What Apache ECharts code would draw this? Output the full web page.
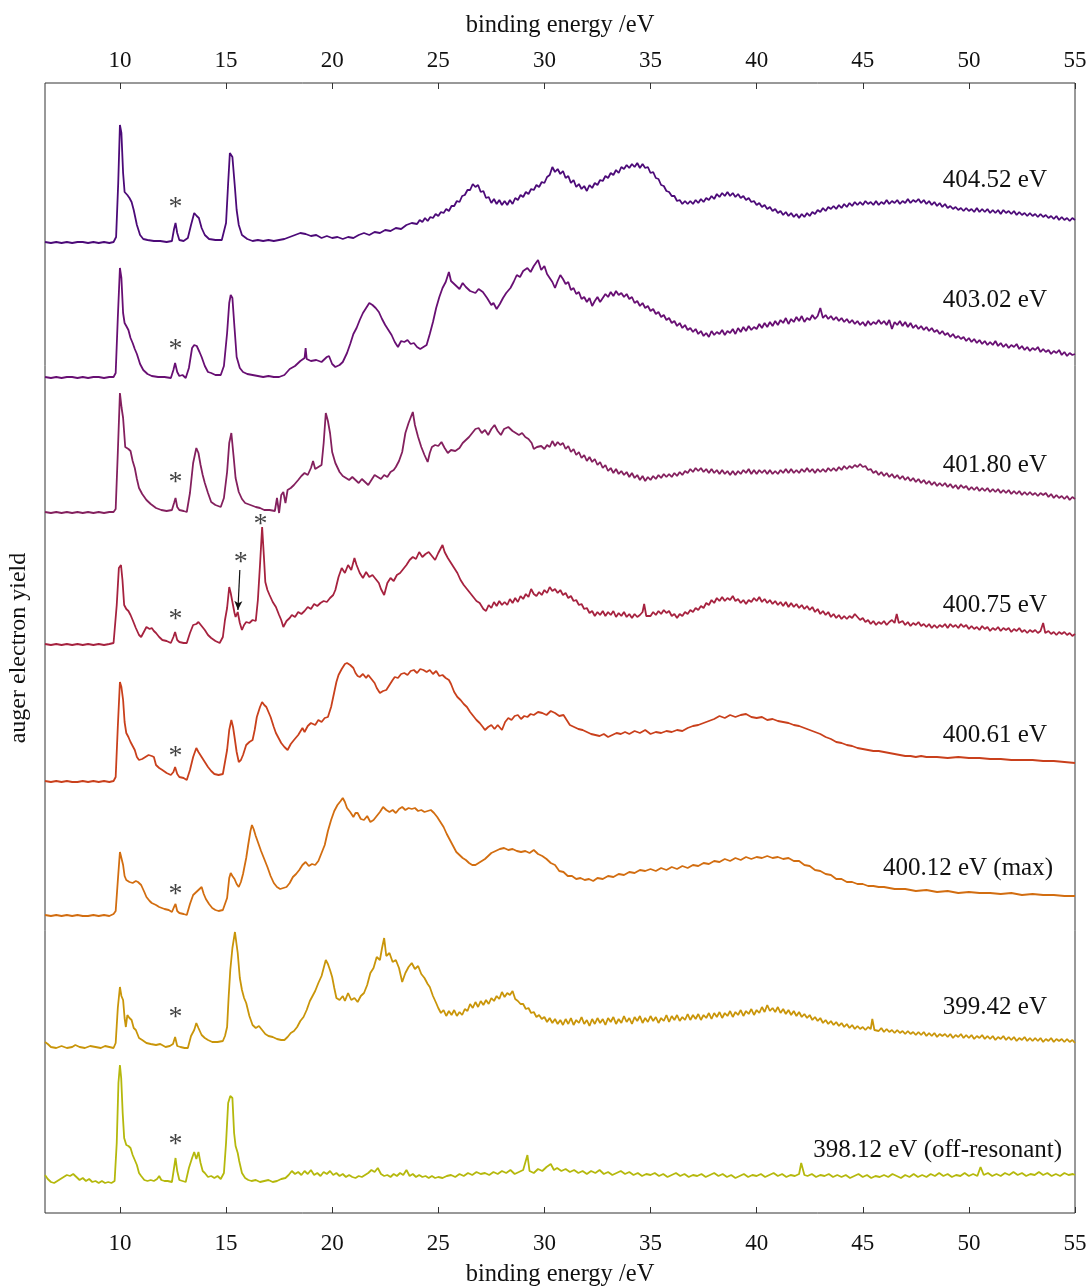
<!DOCTYPE html>
<html>
<head>
<meta charset="utf-8">
<script src="https://cdn.jsdelivr.net/npm/echarts@6/dist/echarts.min.js"></script>
<style>
  html, body { margin: 0; padding: 0; background: #ffffff; }
  #chart { width: 1089px; height: 1286px; }
</style>
</head>
<body>
<div id="chart"></div>
<script>
// Binding-energy tick positions shown on the top and bottom axes
const energyTicks = [10, 15, 20, 25, 30, 35, 40, 45, 50, 55];

// Photon energies of the spectra, top to bottom
const photonLabels = ['404.52 eV', '403.02 eV', '401.80 eV', '400.75 eV',
                      '400.61 eV', '400.12 eV (max)', '399.42 eV', '398.12 eV (off-resonant)'];

// Vertical offset of each spectrum in the stack (arb. units)
const stackOffsets = [970, 835, 700, 568, 431, 297, 165, 30];

// Auger yield as flat [binding energy, yield, ...] lists
const yield40452 = [6.47,1,6.75,0,7.0,1,7.25,0,7.5,1,7.75,0,8.0,1,8.25,1,8.5,0,8.75,1,9.0,0,9.25,1,9.5,0,9.7,1,9.82,6,9.92,60,10.0,118,10.07,110,10.15,70,10.22,51,10.35,48,10.45,45,10.55,41,10.65,33,10.8,18,10.95,8,11.1,4,11.3,3,11.6,2,11.9,2,12.2,1,12.45,2,12.55,14,12.62,20,12.7,10,12.8,3,13.0,2,13.2,5,13.35,18,13.5,30,13.62,27,13.72,25,13.85,15,14.0,8,14.2,4,14.5,3,14.8,3,15.0,20,15.1,60,15.18,90,15.3,86,15.42,55,15.5,33,15.6,18,15.75,8,16.0,4,16.25,2,16.5,3,16.75,2,17.0,3,17.25,2,17.5,3,17.75,4,18.0,6,18.25,8,18.5,10,18.75,9,19.0,7,19.25,8,19.5,5,19.75,7,20.0,5,20.25,6,20.5,4,20.75,6,21.0,5,21.25,8,21.5,10,21.75,8,22.0,11,22.25,10,22.5,13,22.75,12,23.0,15,23.25,14,23.5,18,23.75,20,
24.0,19,24.125,23,24.25,21,24.375,25,24.5,22,24.625,26,24.75,25,24.875,29,25.0,27,25.125,31,25.25,30,25.375,34,25.5,32,25.625,37,25.75,37,25.875,42,26.0,41,26.125,47,26.25,48,26.375,53,26.5,53,26.625,59,26.75,56,26.875,58,27.0,51,27.125,52,27.25,45,27.375,46,27.5,40,27.625,44,27.75,39,27.875,43,28.0,38,28.125,42,28.25,38,28.375,43,28.5,39,28.625,45,28.75,43,28.875,48,29.0,46,29.125,51,29.25,49,29.375,54,29.5,53,29.625,58,29.75,56,29.875,61,30.0,60,30.125,66,30.25,68,30.375,76,30.5,71,30.625,74,30.75,69,30.875,72,31.0,65,31.125,67,31.25,60,31.375,63,31.5,56,31.625,59,31.75,54,31.875,57,32.0,52,32.125,58,32.25,55,32.375,60,32.5,58,32.625,63,32.75,62,32.875,67,33.0,65,33.125,70,33.25,68,33.375,73,33.5,70,33.625,76,33.75,74,33.875,78,34.0,75,34.125,79,34.25,76,34.375,80,34.5,75,34.625,79,34.75,75,34.875,76,35.0,70,35.125,71,35.25,65,35.375,64,35.5,58,35.625,57,35.75,52,35.875,51,36.0,47,36.125,47,36.25,42,36.375,43,36.5,39,36.625,42,36.75,39,36.875,42,37.0,39,37.125,43,37.25,40,37.375,44,37.5,41,37.625,45,37.75,43,37.875,47,38.0,44,38.125,49,38.25,46,38.375,50,38.5,47,38.625,51,38.75,47,38.875,50,39.0,46,39.125,49,39.25,45,39.375,47,39.5,43,39.625,45,39.75,41,39.875,42,40.0,38,40.125,40,40.25,36,40.375,38,40.5,34,40.625,36,40.75,32,40.875,34,41.0,30,41.125,32,41.25,28,41.375,31,41.5,27,41.625,30,41.75,26,41.875,29,42.0,25,42.125,29,42.25,26,42.375,30,42.5,27,42.625,31,42.75,29,42.875,33,43.0,31,43.125,35,43.25,32,43.375,36,43.5,34,43.625,37,43.75,34,43.875,38,44.0,35,44.125,39,44.25,36,44.375,40,44.5,37,44.625,41,44.75,38,44.875,41,45.0,38,45.125,42,45.25,39,45.375,41,45.5,38,45.625,42,45.75,38,45.875,41,46.0,39,46.125,43,46.25,39,46.375,42,46.5,40,46.625,43,46.75,39,46.875,42,47.0,40,47.125,44,47.25,40,47.375,43,47.5,41,47.625,44,47.75,40,47.875,43,48.0,39,48.125,42,48.25,38,48.375,41,48.5,37,48.625,40,48.75,36,48.875,39,49.0,35,49.125,37,49.25,34,49.375,36,49.5,33,49.625,35,49.75,32,49.875,35,50.0,32,50.125,34,50.25,31,50.375,35,50.5,31,50.625,34,50.75,31,50.875,34,51.0,30,51.125,33,51.25,30,51.375,33,51.5,29,51.625,33,51.75,30,51.875,32,52.0,29,52.125,32,52.25,28,52.375,31,52.5,28,52.625,30,52.75,27,52.875,30,53.0,27,53.125,29,53.25,26,53.375,29,53.5,26,53.625,28,53.75,25,53.875,27,54.0,24,54.125,27,54.25,23,54.375,26,54.5,23,54.625,25,54.75,22,54.875,25,55.0,23];

const yield40302 = [6.47,1,6.75,0,7.0,1,7.25,0,7.5,1,7.75,1,8.0,0,8.25,1,8.5,0,8.75,1,9.0,1,9.25,0,9.5,1,9.7,1,9.8,5,9.9,60,10.0,110,10.07,100,10.15,65,10.22,55,10.3,52,10.4,48,10.5,40,10.6,35,10.7,29,10.8,24,10.95,14,11.1,8,11.3,4,11.5,2,11.8,1,12.1,1,12.4,0,12.52,8,12.6,15,12.7,6,12.8,2,12.95,3,13.1,0,13.25,10,13.4,30,13.5,33,13.62,32,13.75,26,13.85,21,14.0,12,14.15,6,14.3,5,14.5,3,14.75,3,14.9,12,15.05,45,15.15,75,15.22,83,15.3,80,15.4,50,15.5,21,15.65,10,15.8,6,16.0,4,16.25,3,16.5,2,16.75,1,17.0,2,17.25,1,17.5,1,17.75,3,18.0,9,18.25,12,18.5,17,18.7,20,18.75,30,18.8,19,19.0,17,19.25,18,19.5,16,19.75,21,19.85,22,20.0,14,20.15,11,20.35,13,20.5,16,20.7,25,20.85,34,21.0,44,21.15,50,21.3,58,21.45,65,21.6,70,21.75,75,21.9,73,22.05,70,22.2,66,22.35,59,22.5,53,22.65,48,22.8,43,22.95,36,23.1,31,23.25,37,23.4,36,23.55,38,23.7,34,23.85,35,24.0,31,24.15,29,24.3,31,24.45,33,24.6,44,24.75,56,24.9,70,25.05,81,25.2,90,25.35,96,25.5,106,25.6,97,25.8,93,26.0,89,26.15,95,26.3,91,26.5,87,26.75,85,26.9,89,27.1,86,27.3,80,27.5,73,27.6,75,27.75,69,27.9,74,28.05,80,28.2,85,28.4,90,28.55,96,28.7,103,28.85,101,29.0,107,29.2,110,29.35,106,29.5,112,29.7,118,29.85,108,
30.0,112,30.125,104,30.25,100,30.375,96,30.5,90,30.625,97,30.75,103,30.875,99,31.0,94,31.125,96,31.25,88,31.375,90,31.5,84,31.625,86,31.75,79,31.875,81,32.0,76,32.125,80,32.25,72,32.375,77,32.5,81,32.625,76,32.75,80,32.875,84,33.0,81,33.125,86,33.25,82,33.375,87,33.5,83,33.625,85,33.75,81,33.875,84,34.0,79,34.125,81,34.25,75,34.375,77,34.5,72,34.625,75,34.75,70,34.875,72,35.0,67,35.125,69,35.25,64,35.375,66,35.5,61,35.625,63,35.75,58,35.875,60,36.0,55,36.125,57,36.25,52,36.375,55,36.5,50,36.625,53,36.75,48,36.875,50,37.0,46,37.125,49,37.25,44,37.375,47,37.5,42,37.625,45,37.75,41,37.875,47,38.0,43,38.125,46,38.25,44,38.375,48,38.5,43,38.625,47,38.75,45,38.875,49,39.0,44,39.125,50,39.25,46,39.375,51,39.5,47,39.625,52,39.75,48,39.875,51,40.0,49,40.125,54,40.25,50,40.375,55,40.5,51,40.625,56,40.75,52,40.875,57,41.0,53,41.125,58,41.25,55,41.375,60,41.5,54,41.625,59,41.75,56,41.875,61,42.0,57,42.125,62,42.25,56,42.375,60,42.5,58,42.625,63,42.75,59,42.875,62,43.0,70,43.125,60,43.25,63,43.375,59,43.5,62,43.625,58,43.75,61,43.875,57,44.0,60,44.125,56,44.25,59,44.375,55,44.5,58,44.625,54,44.75,57,44.875,53,45.0,56,45.125,52,45.25,57,45.375,53,45.5,56,45.625,54,45.75,58,45.875,54,46.0,57,46.125,53,46.25,58,46.375,49,46.5,56,46.625,53,46.75,57,46.875,52,47.0,56,47.125,51,47.25,55,47.375,50,47.5,53,47.625,49,47.75,52,47.875,48,48.0,51,48.125,47,48.25,50,48.375,46,48.5,48,48.625,44,48.75,47,48.875,43,49.0,45,49.125,41,49.25,44,49.375,40,49.5,42,49.625,39,49.75,41,49.875,37,50.0,40,50.125,36,50.25,39,50.375,35,50.5,38,50.625,34,50.75,37,50.875,33,51.0,36,51.125,33,51.25,37,51.375,32,51.5,35,51.625,31,51.75,34,51.875,30,52.0,33,52.125,31,52.25,34,52.375,29,52.5,32,52.625,28,52.75,31,52.875,27,53.0,30,53.125,28,53.25,31,53.375,26,53.5,29,53.625,26,53.75,28,53.875,24,54.0,27,54.125,25,54.25,28,54.375,23,54.5,26,54.625,22,54.75,25,54.875,23,55.0,24];

const yield40180 = [6.47,1,6.75,0,7.0,1,7.25,0,7.5,1,7.75,0,8.0,1,8.25,0,8.5,1,8.75,0,9.0,1,9.25,0,9.5,1,9.7,1,9.8,4,9.9,60,10.0,120,10.08,105,10.15,95,10.25,66,10.4,64,10.5,62,10.6,52,10.7,45,10.8,34,10.9,25,11.05,19,11.25,13,11.45,9,11.7,5,11.95,3,12.2,2,12.45,3,12.55,10,12.62,15,12.7,6,12.8,3,13.0,2,13.15,1,13.3,20,13.45,50,13.6,65,13.7,60,13.8,48,13.9,38,14.0,30,14.15,20,14.3,11,14.5,8,14.75,6,14.9,15,15.05,41,15.15,70,15.25,80,15.35,58,15.45,35,15.6,21,15.75,14,15.9,10,16.15,8,16.4,6,16.6,5,16.8,3,17.05,3,17.3,2,17.4,15,17.5,0,17.6,18,17.7,21,17.8,10,17.9,23,18.05,25,18.2,28,18.4,33,18.55,37,18.7,40,18.85,38,19.0,45,19.1,52,19.2,44,19.35,46,19.5,48,19.6,70,19.7,100,19.8,92,19.9,80,20.0,61,20.15,50,20.35,41,20.5,37,20.65,35,20.8,33,20.95,36,21.1,33,21.25,30,21.4,34,21.55,31,21.7,28,21.85,33,22.0,38,22.15,36,22.3,34,22.45,38,22.6,36,22.75,41,22.9,43,23.0,46,23.15,52,23.3,61,23.45,80,23.6,90,23.8,101,23.9,88,24.05,76,24.2,66,24.35,58,24.5,51,24.6,60,24.7,66,24.85,68,25.0,67,25.15,71,25.3,65,25.45,60,25.6,63,25.8,62,26.0,65,26.15,70,26.3,73,26.45,76,26.6,80,26.75,84,26.9,85,27.05,80,27.2,83,27.35,78,27.5,84,27.65,88,27.8,82,27.95,78,28.1,84,28.3,86,28.5,82,28.65,80,28.8,78,28.95,80,29.1,76,29.25,74,29.4,70,29.5,64,29.65,66,29.85,67,
30.0,64,30.125,68,30.25,66,30.375,72,30.5,67,30.625,71,30.75,68,30.875,70,31.0,64,31.125,67,31.25,61,31.375,64,31.5,58,31.625,61,31.75,55,31.875,58,32.0,52,32.125,56,32.25,51,32.375,54,32.5,48,32.625,51,32.75,45,32.875,48,33.0,42,33.125,45,33.25,40,33.375,44,33.5,39,33.625,42,33.75,38,33.875,41,34.0,36,34.125,40,34.25,35,34.375,38,34.5,33,34.625,37,34.75,32,34.875,36,35.0,33,35.125,37,35.25,34,35.375,38,35.5,35,35.625,39,35.75,36,35.875,39,36.0,36,36.125,40,36.25,37,36.375,41,36.5,38,36.625,42,36.75,40,36.875,44,37.0,41,37.125,45,37.25,42,37.375,45,37.5,41,37.625,44,37.75,40,37.875,44,38.0,40,38.125,43,38.25,39,38.375,43,38.5,39,38.625,42,38.75,38,38.875,42,39.0,38,39.125,42,39.25,39,39.375,43,39.5,40,39.625,44,39.75,39,39.875,43,40.0,39,40.125,43,40.25,40,40.375,43,40.5,39,40.625,43,40.75,39,40.875,42,41.0,39,41.125,43,41.25,40,41.375,44,41.5,40,41.625,44,41.75,40,41.875,43,42.0,40,42.125,44,42.25,41,42.375,45,42.5,41,42.625,44,42.75,40,42.875,44,43.0,41,43.125,44,43.25,41,43.375,45,43.5,42,43.625,45,43.75,42,43.875,46,44.0,43,44.125,47,44.25,44,44.375,47,44.5,45,44.625,48,44.75,46,44.875,49,45.0,46,45.125,47,45.25,43,45.375,44,45.5,40,45.625,42,45.75,38,45.875,41,46.0,37,46.125,40,46.25,36,46.375,39,46.5,35,46.625,38,46.75,34,46.875,37,47.0,33,47.125,36,47.25,32,47.375,35,47.5,31,47.625,34,47.75,30,47.875,33,48.0,29,48.125,32,48.25,28,48.375,31,48.5,27,48.625,30,48.75,27,48.875,30,49.0,26,49.125,29,49.25,25,49.375,28,49.5,24,49.625,28,49.75,25,49.875,27,50.0,23,50.125,26,50.25,23,50.375,26,50.5,22,50.625,25,50.75,22,50.875,25,51.0,21,51.125,24,51.25,21,51.375,24,51.5,20,51.625,23,51.75,20,51.875,23,52.0,19,52.125,22,52.25,19,52.375,22,52.5,18,52.625,21,52.75,18,52.875,21,53.0,18,53.125,20,53.25,17,53.375,20,53.5,18,53.625,20,53.75,16,53.875,19,54.0,15,54.125,18,54.25,15,54.375,17,54.5,14,54.625,17,54.75,13,54.875,16,55.0,14];

const yield40075 = [6.47,1,6.75,0,7.0,1,7.25,0,7.5,1,7.75,0,8.0,1,8.25,0,8.5,1,8.75,0,9.0,1,9.25,0,9.5,1,9.7,2,9.85,40,9.95,77,10.05,80,10.12,65,10.2,40,10.3,36,10.4,34,10.5,30,10.6,25,10.75,17,10.9,10,11.0,8,11.15,14,11.25,18,11.4,16,11.5,17,11.6,14,11.7,12,11.85,8,12.0,5,12.2,4,12.4,2,12.52,8,12.6,13,12.7,5,12.8,3,13.0,2,13.15,2,13.3,12,13.45,20,13.6,21,13.7,23,13.85,19,14.0,15,14.15,10,14.3,7,14.5,4,14.7,2,14.85,8,14.95,25,15.05,37,15.15,58,15.22,52,15.3,43,15.4,32,15.45,28,15.55,33,15.65,22,15.75,15,15.85,20,15.95,23,16.1,22,16.25,25,16.4,24,16.5,45,16.6,80,16.7,118,16.78,90,16.85,63,16.95,55,17.05,50,17.2,43,17.35,38,17.5,30,17.6,25,17.7,18,17.85,24,18.0,27,18.1,30,18.25,28,18.4,33,18.55,31,18.7,34,18.85,38,19.0,36,19.15,41,19.3,39,19.45,42,19.6,44,19.75,43,19.9,47,20.05,50,20.15,55,20.3,68,20.45,77,20.6,72,20.75,80,20.9,75,21.05,87,21.15,80,21.3,72,21.45,67,21.6,73,21.75,68,21.9,70,22.05,66,22.2,62,22.3,56,22.45,50,22.6,62,22.75,67,22.9,64,23.05,70,23.2,72,23.35,76,23.5,80,23.65,85,23.8,88,23.95,86,24.1,93,24.25,88,24.4,91,24.55,93,24.7,89,24.85,85,25.0,92,25.1,96,25.2,100,25.3,93,25.45,87,25.6,82,25.75,77,25.9,72,26.05,65,26.2,60,26.35,56,26.5,52,26.65,48,26.8,44,26.95,42,
27.0,40,27.125,36,27.25,34,27.375,40,27.5,37,27.625,43,27.75,39,27.875,44,28.0,40,28.125,43,28.25,40,28.375,46,28.5,42,28.625,47,28.75,43,28.875,49,29.0,46,29.125,51,29.25,48,29.375,56,29.5,51,29.625,49,29.75,53,29.875,50,30.0,55,30.125,52,30.25,58,30.375,54,30.5,56,30.625,52,30.75,55,30.875,50,31.0,52,31.125,47,31.25,49,31.375,44,31.5,45,31.625,40,31.75,41,31.875,36,32.0,37,32.125,32,32.25,34,32.375,29,32.5,33,32.625,30,32.75,34,32.875,29,33.0,33,33.125,30,33.25,34,33.375,28,33.5,32,33.625,29,33.75,33,33.875,28,34.0,31,34.125,27,34.25,31,34.375,28,34.5,30,34.625,33,34.7,41,34.8,29,34.875,31,35.0,29,35.125,33,35.25,30,35.375,34,35.5,31,35.625,35,35.75,32,35.875,34,36.0,29,36.125,31,36.25,27,36.375,31,36.5,29,36.625,33,36.75,31,36.875,35,37.0,33,37.125,37,37.25,35,37.375,39,37.5,37,37.625,42,37.75,40,37.875,45,38.0,42,38.125,47,38.25,44,38.375,48,38.5,44,38.625,47,38.75,45,38.875,49,39.0,44,39.125,46,39.25,42,39.375,45,39.5,41,39.625,45,39.75,43,39.875,47,40.0,44,40.125,48,40.25,43,40.375,46,40.5,42,40.625,45,40.75,41,40.875,44,41.0,40,41.125,43,41.25,39,41.375,43,41.5,38,41.625,42,41.75,38,41.875,41,42.0,37,42.125,40,42.25,36,42.375,39,42.5,35,42.625,38,42.75,33,42.875,36,43.0,31,43.125,34,43.25,30,43.375,33,43.5,28,43.625,31,43.75,27,43.875,30,44.0,26,44.125,29,44.25,26,44.375,29,44.5,27,44.625,31,44.75,28,44.875,25,45.0,27,45.125,23,45.25,25,45.375,21,45.5,24,45.625,20,45.75,23,45.875,21,46.0,24,46.125,20,46.25,23,46.375,25,46.5,22,46.6,31,46.7,22,46.875,24,47.0,20,47.125,23,47.25,19,47.375,22,47.5,20,47.625,23,47.75,19,47.875,21,48.0,18,48.125,21,48.25,17,48.375,20,48.5,17,48.625,20,48.75,18,48.875,21,49.0,17,49.125,21,49.25,18,49.375,20,49.5,17,49.625,21,49.75,18,49.875,20,50.0,16,50.125,19,50.25,16,50.375,18,50.5,15,50.625,19,50.75,16,50.875,18,51.0,14,51.125,17,51.25,15,51.375,18,51.5,14,51.625,17,51.75,15,51.875,17,52.0,13,52.125,16,52.25,14,52.375,17,52.5,13,52.625,15,52.75,12,52.875,15,53.0,13,53.125,15,53.25,12,53.375,14,53.5,22,53.6,12,53.75,14,53.875,11,54.0,13,54.125,10,54.25,13,54.375,11,54.5,13,54.625,10,54.75,12,54.875,9,55.0,11];

const yield40061 = [6.47,1,6.75,0,7.0,1,7.25,0,7.5,1,7.75,0,8.0,0,8.25,1,8.5,0,8.75,1,9.0,0,9.25,1,9.5,0,9.7,1,9.8,5,9.9,55,10.0,100,10.07,95,10.15,82,10.22,60,10.3,49,10.4,45,10.5,40,10.6,36,10.7,32,10.8,25,10.9,22,11.05,23,11.2,25,11.35,27,11.5,26,11.6,25,11.7,17,11.85,14,12.0,12,12.2,9,12.4,7,12.52,10,12.6,15,12.7,8,12.8,5,13.0,4,13.15,2,13.3,12,13.45,25,13.6,34,13.7,30,13.85,25,14.0,20,14.15,15,14.3,11,14.45,8,14.65,7,14.85,8,14.95,20,15.05,32,15.15,52,15.25,62,15.33,55,15.4,45,15.5,30,15.6,20,15.7,22,15.8,27,15.95,37,16.1,40,16.25,42,16.35,52,16.45,65,16.6,75,16.7,80,16.8,77,16.9,75,17.0,70,17.1,65,17.25,55,17.35,49,17.5,43,17.6,39,17.75,35,17.9,32,18.05,38,18.2,42,18.4,47,18.6,54,18.7,50,18.85,56,19.0,59,19.2,57,19.35,62,19.5,60,19.65,64,19.8,65,19.95,75,20.05,85,20.2,100,20.3,107,20.45,113,20.6,118,20.7,119,20.85,117,21.0,114,21.1,109,21.2,106,21.3,105,21.45,108,21.6,104,21.7,107,21.85,103,22.0,99,22.1,94,22.25,89,22.4,91,22.55,92,22.7,97,22.85,102,22.95,105,23.1,104,23.25,108,23.4,109,23.55,107,23.7,111,23.85,112,24.0,109,24.15,113,24.3,112,24.45,110,24.6,112,24.75,108,24.9,111,25.05,106,25.2,107,25.35,104,25.5,102,25.6,98,25.75,90,25.9,85,26.05,82,26.2,78,26.35,75,26.5,70,26.65,66,26.8,62,26.95,59,27.1,55,27.2,52,27.35,55,27.5,57,27.65,53,27.8,57,28.0,52,28.15,60,28.3,64,28.45,62,28.6,66,28.75,67,28.9,63,29.05,66,29.2,65,29.35,68,29.5,67,29.7,70,29.9,69,30.1,67,30.3,71,30.5,69,30.7,66,30.9,67,31.05,62,31.2,57,31.4,55,31.6,53,31.8,52,32.0,50,32.2,48,32.4,47,32.6,46,32.8,48,33.0,45,33.2,47,33.4,49,33.6,48,33.8,50,34.0,48,34.25,51,34.5,49,34.75,52,35.0,48,35.25,50,35.5,49,35.75,51,36.0,50,36.25,52,36.5,51,36.75,54,37.0,56,37.25,57,37.5,59,37.75,61,38.0,63,38.25,66,38.5,64,38.75,67,39.0,65,39.25,67,39.5,68,39.75,65,40.0,64,40.25,65,40.5,62,40.75,63,41.0,61,41.25,60,41.5,59,41.75,57,42.0,56,42.25,54,42.5,52,42.75,50,43.0,48,43.25,45,43.5,43,43.75,40,44.0,39,44.25,37,44.5,36,44.75,34,45.0,33,45.25,32,45.5,31,45.75,31,46.0,30,46.25,29,46.5,28,46.75,27,47.0,26,47.25,26,47.5,25,47.75,26,48.0,25,48.5,25,49.0,24,49.5,25,50.0,24,50.5,24,51.0,23,51.5,23,52.0,22,52.5,22,53.0,22,53.5,21,54.0,21,54.5,20,55.0,19];

const yield40012 = [6.47,1,6.75,0,7.0,1,7.25,0,7.5,1,7.75,0,8.0,1,8.25,0,8.5,0,8.75,1,9.0,0,9.25,1,9.5,0,9.7,2,9.8,5,9.9,35,10.0,64,10.07,58,10.15,51,10.22,40,10.3,36,10.45,34,10.6,33,10.75,35,10.85,34,11.0,31,11.15,24,11.25,19,11.4,15,11.5,13,11.7,11,11.85,9,12.1,7,12.3,6,12.45,4,12.55,9,12.62,12,12.7,5,12.8,3,13.0,2,13.15,1,13.3,12,13.45,21,13.6,24,13.7,26,13.85,29,13.95,22,14.05,17,14.2,12,14.35,8,14.5,6,14.65,5,14.85,6,14.95,12,15.05,18,15.15,38,15.22,43,15.3,40,15.4,37,15.5,32,15.6,29,15.7,34,15.8,42,15.95,58,16.05,72,16.15,85,16.22,91,16.3,87,16.4,80,16.5,74,16.65,65,16.8,57,16.95,49,17.1,40,17.25,33,17.4,29,17.55,27,17.7,28,17.85,29,18.0,33,18.15,39,18.3,42,18.45,46,18.6,51,18.75,54,18.9,50,19.05,52,19.2,51,19.35,55,19.5,63,19.65,71,19.8,85,19.95,96,20.1,105,20.25,111,20.4,115,20.5,118,20.6,114,20.7,108,20.85,104,21.0,99,21.1,103,21.2,103,21.35,97,21.5,96,21.65,100,21.8,94,21.95,96,22.1,100,22.25,104,22.4,109,22.55,106,22.7,104,22.85,106,23.0,103,23.15,107,23.3,109,23.45,106,23.6,108,23.75,107,23.9,108,24.05,105,24.2,106,24.35,104,24.5,105,24.65,106,24.8,103,24.95,99,25.1,94,25.25,89,25.4,82,25.55,76,25.7,70,25.85,64,26.0,61,26.15,58,26.3,56,26.45,53,26.6,51,26.75,51,26.9,53,27.05,55,27.2,57,27.35,60,27.5,63,27.7,65,27.9,67,28.1,68,28.3,66,28.5,67,28.7,65,28.9,64,29.1,65,29.3,63,29.5,66,29.7,62,29.9,60,30.1,57,30.3,53,30.5,51,30.7,45,30.9,44,31.1,40,31.3,40,31.5,37,31.7,38,31.9,36,32.1,37,32.3,35,32.5,38,32.75,37,33.0,40,33.25,39,33.5,42,33.75,41,34.0,44,34.25,43,34.5,46,34.75,45,35.0,47,35.25,45,35.5,48,35.75,46,36.0,49,36.25,47,36.5,50,36.75,48,37.0,51,37.25,50,37.5,53,37.75,52,38.0,55,38.25,54,38.5,57,38.75,55,39.0,58,39.25,56,39.5,59,39.75,57,40.0,59,40.25,58,40.5,60,40.75,58,41.0,59,41.25,57,41.5,58,41.75,55,42.0,55,42.25,51,42.5,50,42.75,46,43.0,45,43.25,42,43.5,41,43.75,37,44.0,37,44.25,34,44.5,34,44.75,32,45.0,32,45.25,30,45.5,30,45.75,29,46.0,29,46.5,27,47.0,27,47.5,25,48.0,26,48.5,24,49.0,25,49.5,23,50.0,24,50.5,23,51.0,23,51.5,22,52.0,23,52.5,21,53.0,22,53.5,21,54.0,21,54.5,20,55.0,20];

const yield39942 = [6.47,6,6.6,4,6.75,1,7.0,0,7.25,2,7.5,0,7.75,1,7.9,3,8.1,1,8.35,0,8.6,2,8.85,1,9.1,0,9.3,2,9.5,1,9.7,0,9.8,5,9.9,40,10.0,61,10.07,52,10.15,48,10.22,30,10.28,21,10.35,33,10.45,30,10.55,28,10.65,20,10.75,18,10.9,10,11.05,8,11.25,5,11.45,4,11.7,3,11.9,4,12.15,1,12.35,2,12.5,4,12.6,11,12.7,2,12.85,1,13.05,0,13.2,0,13.35,12,13.5,18,13.6,25,13.7,20,13.85,13,14.0,10,14.15,8,14.35,6,14.6,6,14.85,7,14.95,12,15.05,21,15.12,50,15.2,78,15.3,100,15.42,116,15.5,103,15.55,95,15.65,70,15.75,58,15.85,50,15.95,45,16.1,32,16.25,23,16.4,20,16.55,22,16.7,18,16.85,14,17.0,12,17.2,11,17.4,9,17.6,8,17.75,8,17.9,11,18.05,15,18.2,17,18.35,21,18.5,27,18.65,31,18.8,38,18.95,47,19.05,51,19.2,57,19.35,65,19.5,72,19.6,80,19.7,88,19.8,84,19.9,78,20.0,71,20.1,60,20.2,50,20.35,48,20.5,52,20.6,47,20.75,55,20.9,48,21.05,50,21.2,46,21.35,52,21.5,55,21.65,63,21.8,75,21.95,80,22.1,91,22.25,88,22.35,100,22.45,110,22.55,92,22.7,95,22.85,86,23.0,88,23.15,80,23.3,66,23.45,75,23.6,81,23.75,85,23.9,79,24.05,82,24.2,74,24.35,70,24.5,64,24.6,61,24.75,52,24.9,45,
25.0,40,25.125,35,25.25,38,25.375,32,25.5,37,25.625,33,25.75,38,25.875,32,26.0,36,26.125,33,26.25,39,26.375,37,26.5,44,26.625,40,26.75,46,26.875,41,27.0,47,27.125,43,27.25,48,27.375,44,27.5,50,27.625,47,27.75,52,27.875,49,28.0,56,28.125,51,28.25,55,28.375,53,28.5,57,28.625,49,28.75,47,28.875,44,29.0,44,29.125,39,29.25,40,29.375,35,29.5,36,29.625,31,29.75,33,29.875,29,30.0,31,30.125,26,30.25,30,30.375,25,30.5,29,30.625,24,30.75,28,30.875,23,31.0,29,31.125,24,31.25,30,31.375,23,31.5,28,31.625,25,31.75,31,31.875,24,32.0,28,32.125,22,32.25,29,32.375,24,32.5,30,32.625,25,32.75,29,32.875,23,33.0,30,33.125,26,33.25,31,33.375,24,33.5,29,33.625,25,33.75,32,33.875,26,34.0,30,34.125,24,34.25,31,34.375,27,34.5,32,34.625,25,34.75,30,34.875,26,35.0,32,35.125,27,35.25,31,35.375,25,35.5,30,35.625,27,35.75,33,35.875,26,36.0,32,36.125,28,36.25,33,36.375,27,36.5,31,36.625,28,36.75,34,36.875,28,37.0,33,37.125,29,37.25,34,37.375,28,37.5,33,37.625,30,37.75,35,37.875,29,38.0,35,38.125,31,38.25,36,38.375,30,38.5,35,38.625,32,38.75,37,38.875,31,39.0,36,39.125,33,39.25,38,39.375,32,39.5,37,39.625,34,39.75,39,39.875,33,40.0,38,40.125,35,40.25,41,40.375,36,40.5,43,40.625,37,40.75,40,40.875,36,41.0,41,41.125,35,41.25,39,41.375,34,41.5,38,41.625,33,41.75,37,41.875,32,42.0,36,42.125,31,42.25,34,42.375,30,42.5,33,42.625,28,42.75,31,42.875,27,43.0,30,43.125,25,43.25,28,43.375,24,43.5,27,43.625,23,43.75,26,43.875,22,44.0,25,44.125,21,44.25,24,44.375,20,44.5,23,44.625,19,44.75,22,44.875,19,45.0,21,45.125,18,45.25,21,45.375,19,45.45,29,45.55,18,45.625,20,45.75,17,45.875,20,46.0,16,46.125,19,46.25,16,46.375,18,46.5,15,46.625,18,46.75,15,46.875,17,47.0,14,47.125,17,47.25,14,47.375,16,47.5,13,47.625,16,47.75,13,47.875,16,48.0,12,48.125,15,48.25,12,48.375,15,48.5,11,48.625,14,48.75,12,48.875,14,49.0,11,49.125,14,49.25,10,49.375,13,49.5,11,49.625,14,49.75,10,49.875,13,50.0,10,50.125,13,50.25,9,50.375,12,50.5,10,50.625,13,50.75,9,50.875,12,51.0,9,51.125,12,51.25,8,51.375,11,51.5,9,51.625,12,51.75,8,51.875,11,52.0,8,52.125,11,52.25,7,52.375,10,52.5,8,52.625,11,52.75,7,52.875,10,53.0,7,53.125,10,53.25,7,53.375,10,53.5,6,53.625,9,53.75,7,53.875,10,54.0,6,54.125,9,54.25,7,54.375,9,54.5,6,54.625,9,54.75,6,54.875,8,55.0,5];

const yield39812 = [6.47,8,6.6,4,6.75,1,6.9,0,7.05,2,7.2,4,7.35,6,7.5,8,7.65,7,7.8,9,7.95,6,8.1,3,8.25,5,8.4,2,8.55,4,8.7,1,8.85,2,9.0,0,9.15,2,9.3,0,9.45,1,9.6,0,9.75,2,9.85,40,9.93,100,10.0,118,10.06,105,10.13,70,10.2,45,10.3,38,10.4,37,10.5,35,10.6,28,10.7,23,10.8,18,10.9,10,11.0,7,11.15,3,11.3,2,11.45,3,11.6,2,11.75,4,11.85,7,11.95,3,12.1,2,12.25,2,12.45,1,12.55,15,12.62,25,12.7,12,12.8,3,12.95,2,13.1,1,13.25,15,13.4,25,13.5,31,13.6,24,13.7,31,13.8,20,13.9,12,14.0,10,14.15,6,14.3,7,14.45,5,14.6,7,14.75,4,14.9,10,15.0,40,15.1,80,15.2,87,15.3,85,15.38,50,15.45,37,15.55,30,15.62,22,15.75,10,15.9,5,16.05,3,16.2,2,16.4,3,16.6,1,16.8,2,17.0,3,17.2,1,17.4,2,17.6,4,17.8,5,17.95,8,18.1,12,18.25,9,18.4,11,18.55,8,18.7,12,18.85,9,19.0,13,19.15,8,19.3,10,19.45,7,19.6,11,19.75,9,19.9,12,20.05,8,20.2,10,20.35,7,20.5,9,20.65,6,20.8,8,20.95,6,21.1,5,21.25,7,21.4,6,21.55,8,21.7,10,21.85,13,22.0,11,22.15,15,22.3,9,22.45,7,22.6,8,22.75,6,22.9,9,23.05,7,23.2,10,23.35,8,23.5,13,23.65,7,23.8,9,23.95,6,24.1,8,24.25,6,24.4,7,24.55,5,24.7,7,24.85,5,25.0,6,25.2,5,25.4,7,25.6,8,25.8,6,26.0,9,26.2,7,26.4,10,26.6,8,26.8,11,27.0,9,27.2,10,27.4,8,27.6,11,27.8,9,28.0,12,28.2,10,28.4,13,28.6,9,28.8,11,29.0,13,29.2,28,29.3,12,29.5,10,29.7,14,29.9,12,30.1,16,30.3,19,30.45,13,30.6,15,30.8,12,31.0,14,31.2,11,31.4,13,31.6,10,31.8,12,32.0,9,32.2,12,32.4,10,32.6,13,32.8,9,33.0,11,33.2,8,33.4,10,33.6,12,33.8,9,34.0,11,34.2,8,34.4,10,34.6,7,34.8,9,35.0,8,35.2,10,35.4,7,35.6,9,35.8,6,36.0,8,36.2,10,36.4,7,36.6,9,36.8,6,37.0,8,37.2,7,37.4,9,37.6,6,37.8,8,38.0,10,38.2,7,38.4,9,38.6,6,38.8,8,39.0,5,39.2,7,39.4,9,39.6,6,39.8,8,40.0,7,40.2,9,40.4,6,40.6,8,40.8,10,41.0,7,41.2,9,41.4,6,41.6,8,41.8,7,42.0,9,42.1,20,42.25,8,42.4,7,42.6,9,42.8,6,43.0,8,43.2,7,43.4,9,43.6,6,43.8,8,44.0,6,44.2,8,44.4,5,44.6,7,44.8,9,45.0,6,45.2,8,45.4,5,45.6,7,45.8,6,46.0,8,46.2,6,46.4,9,46.6,7,46.8,5,47.0,8,47.2,6,47.4,9,47.6,6,47.8,8,48.0,6,48.2,9,48.4,7,48.6,10,48.8,7,49.0,9,49.2,6,49.4,8,49.6,7,49.8,10,50.0,7,50.2,9,50.4,7,50.55,16,50.7,8,50.9,10,51.1,7,51.3,9,51.5,7,51.7,10,51.9,8,52.1,11,52.3,8,52.5,10,52.7,7,52.9,9,53.1,8,53.3,11,53.5,8,53.7,10,53.9,7,54.1,9,54.3,7,54.5,10,54.7,8,54.9,9,55.0,8];

const spectra = [yield40452, yield40302, yield40180, yield40075,
                 yield40061, yield40012, yield39942, yield39812];

// Line colours, dark purple (high photon energy) to olive yellow (off-resonant)
const lineColors = ['#4c0a78', '#680f73', '#84205e', '#a6223f',
                    '#c9401c', '#d26d10', '#c99509', '#b5b80c'];

// Label placement per spectrum: right edge (px) and vertical centre (px)
const labelBoxes = [[1047, 180], [1047, 300], [1047, 465], [1047, 605],
                    [1047, 735], [1053, 868], [1047, 1007], [1062, 1150]];

// Height (above each stack offset) of the asterisk over the 12.6 eV line
const starHeights = [35, 28, 30, 25, 25, 21, 30, 38];

const serif = '"Liberation Serif", "Times New Roman", "DejaVu Serif", serif';

function stacked(flat, offset) {
  const pts = [];
  for (let i = 0; i < flat.length; i += 2) pts.push([flat[i], flat[i + 1] + offset]);
  return pts;
}

const chart = echarts.init(document.getElementById('chart'), null, { renderer: 'canvas' });

function energyAxis(position, labelMargin, titleGap) {
  return {
    type: 'value', min: 6.47, max: 55, position: position,
    axisLine: { show: false },
    splitLine: { show: false },
    nameLocation: 'middle',
    name: 'binding energy /eV',
    nameGap: titleGap,
    nameTextStyle: { fontFamily: serif, fontSize: 24.5, color: '#111' },
    axisTick: { show: true, inside: true, length: 6, customValues: energyTicks, lineStyle: { color: '#333' } },
    axisLabel: { show: true, customValues: energyTicks, fontFamily: serif, fontSize: 23, color: '#111', margin: labelMargin }
  };
}

const starLabel = { show: true, formatter: '*', position: 'inside', fontFamily: serif, fontSize: 28, color: '#111' };

const series = spectra.map((flat, i) => ({
  type: 'line',
  name: photonLabels[i],
  data: stacked(flat, stackOffsets[i]),
  showSymbol: false,
  symbol: 'none',
  smooth: false,
  animation: false,
  lineStyle: { color: lineColors[i], width: 1.8 },
  z: 2
}));

// Asterisks marking the same feature in each spectrum
series.push({
  type: 'scatter',
  symbolSize: 0,
  animation: false,
  data: starHeights.map((h, i) => [12.62, stackOffsets[i] + h]),
  label: starLabel,
  z: 5
});
// Extra asterisks in the 400.75 eV spectrum, one with an arrow
series.push({
  type: 'scatter',
  symbolSize: 0,
  animation: false,
  data: [[15.69, stackOffsets[3] + 82], [16.62, stackOffsets[3] + 120]],
  label: starLabel,
  markLine: {
    silent: true,
    symbol: ['none', 'arrow'],
    symbolSize: [6, 9],
    label: { show: false },
    lineStyle: { color: '#111', width: 1.2, type: 'solid' },
    data: [[{ coord: [15.65, stackOffsets[3] + 75] }, { coord: [15.56, stackOffsets[3] + 35] }]]
  },
  z: 5
});

chart.setOption({
  backgroundColor: '#ffffff',
  animation: false,
  grid: { left: 45, right: 14, top: 83, bottom: 73, show: true, borderColor: '#333', borderWidth: 1,
          containLabel: false, outerBoundsMode: 'none' },
  xAxis: [ energyAxis('bottom', 19, 49), energyAxis('top', 11, 45) ],
  yAxis: {
    type: 'value', min: 0, max: 1130,
    axisLine: { show: false }, axisTick: { show: false }, axisLabel: { show: false },
    splitLine: { show: false },
    name: 'auger electron yield', nameLocation: 'middle', nameGap: 14,
    nameTextStyle: { fontFamily: serif, fontSize: 24, color: '#111' }
  },
  graphic: photonLabels.map((t, i) => ({
    type: 'text', x: labelBoxes[i][0], y: labelBoxes[i][1], z: 10,
    style: { text: t, font: '25px ' + serif, fill: '#111', textAlign: 'right', textVerticalAlign: 'middle' }
  })),
  series: series
});
</script>
</body>
</html>
